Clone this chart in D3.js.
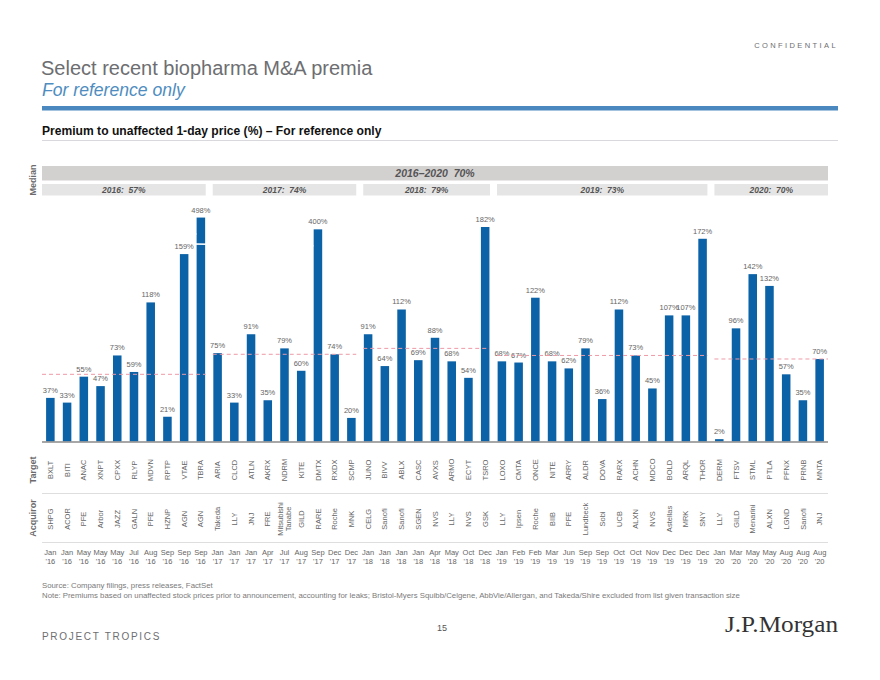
<!DOCTYPE html>
<html lang="en">
<head>
<meta charset="UTF-8">
<title>Select recent biopharma M&amp;A premia</title>
<script src="https://cdnjs.cloudflare.com/ajax/libs/d3/7.8.5/d3.min.js"></script>
<style>
  body { margin: 0; background: #fff; }
  svg { display: block; font-family: "Liberation Sans", Arial, sans-serif; }
</style>
</head>
<body>
<div id="chart"></div>
<script>
// deal data, one entry per bar
const targets = ['BXLT', 'BITI', 'ANAC', 'XNPT', 'CPXX', 'RLYP', 'MDVN', 'RPTP', 'VTAE', 'TBRA',
  'ARIA', 'CLCD', 'ATLN', 'AKRX', 'NDRM', 'KITE', 'DMTX', 'RXDX', 'SCMP',
  'JUNO', 'BIVV', 'ABLX', 'CASC', 'AVXS', 'ARMO', 'ECYT', 'TSRO',
  'LOXO', 'CMTA', 'ONCE', 'NITE', 'ARRY', 'ALDR', 'DOVA', 'RARX', 'ACHN', 'MDCO', 'BOLD', 'ARQL', 'THOR',
  'DERM', 'FTSV', 'STML', 'PTLA', 'PFNX', 'PRNB', 'MNTA']
const acquirors = ['SHPG', 'ACOR', 'PFE', 'Arbor', 'JAZZ', 'GALN', 'PFE', 'HZNP', 'AGN', 'AGN',
  'Takeda', 'LLY', 'JNJ', 'FRE', 'Mitsubishi\nTanabe', 'GILD', 'RARE', 'Roche', 'MNK',
  'CELG', 'Sanofi', 'Sanofi', 'SGEN', 'NVS', 'LLY', 'NVS', 'GSK',
  'LLY', 'Ipsen', 'Roche', 'BIIB', 'PFE', 'Lundbeck', 'Sobi', 'UCB', 'ALXN', 'NVS', 'Astellas', 'MRK', 'SNY',
  'LLY', 'GILD', 'Menarini', 'ALXN', 'LGND', 'Sanofi', 'JNJ']
const dates = ["Jan '16", "Jan '16", "May '16", "May '16", "May '16", "Jul '16", "Aug '16", "Sep '16", "Sep '16", "Sep '16",
  "Jan '17", "Jan '17", "Jan '17", "Apr '17", "Jul '17", "Aug '17", "Sep '17", "Dec '17", "Dec '17",
  "Jan '18", "Jan '18", "Jan '18", "Jan '18", "Apr '18", "May '18", "Oct '18", "Dec '18",
  "Jan '19", "Feb '19", "Feb '19", "Mar '19", "Jun '19", "Sep '19", "Sep '19", "Oct '19", "Oct '19", "Nov '19", "Dec '19", "Dec '19", "Dec '19",
  "Jan '20", "Mar '20", "May '20", "May '20", "Aug '20", "Aug '20", "Aug '20"]
const premia = [37, 33, 55, 47, 73, 59, 118, 21, 159, 498,
  75, 33, 91, 35, 79, 60, 400, 74, 20,
  91, 64, 112, 69, 88, 68, 54, 182,
  68, 67, 122, 68, 62, 79, 36, 112, 73, 45, 107, 107, 172,
  2, 96, 142, 132, 57, 35, 70]
// bars drawn with a break: height shown on the chart
const brokenAt = { TBRA: 190, DMTX: 180 }

const years = ['2016', '2017', '2018', '2019', '2020']
const yearCounts = [10, 9, 8, 13, 7]
const yearMedians = [57, 74, 79, 73, 70]
const overallMedian = 70

const width = 880, height = 680
const left = 42, right = 828, baseY = 441.5

const svg = d3.select('#chart').append('svg').attr('width', width).attr('height', height)

// header
svg.append('text').attr('x', 838).attr('y', 48).attr('text-anchor', 'end')
  .attr('fill', '#6d6e71').attr('font-size', 7.5).attr('letter-spacing', 2.4).text('CONFIDENTIAL')
svg.append('text').attr('x', 41).attr('y', 75).attr('fill', '#6d6e71').attr('font-size', 20)
  .text('Select recent biopharma M&A premia')
svg.append('text').attr('x', 42).attr('y', 96).attr('fill', '#4f8dc0').attr('font-size', 17.6)
  .attr('font-style', 'italic').text('For reference only')
svg.append('rect').attr('x', 42).attr('y', 106).attr('width', 796).attr('height', 4.5).attr('fill', '#4a88bf')
svg.append('text').attr('x', 42).attr('y', 135).attr('fill', '#111').attr('font-size', 12.1)
  .attr('font-weight', 'bold').text('Premium to unaffected 1-day price (%) \u2013 For reference only')
svg.append('line').attr('x1', 42).attr('x2', 838).attr('y1', 140.5).attr('y2', 140.5)
  .attr('stroke', '#cfcfd4').attr('stroke-width', 0.8)

// scales
const x = d3.scaleBand().domain(d3.range(targets.length)).range([left, right])
  .paddingInner(0.49).paddingOuter(0.245)
const y = d3.scaleLinear().domain([0, 200]).range([baseY, baseY - 200 * 1.1786])
const gap = (x.step() - x.bandwidth()) / 2

// year groups
let start = 0
const groups = years.map((yr, k) => {
  const g = { year: yr, first: start, last: start + yearCounts[k] - 1, median: yearMedians[k] }
  start += yearCounts[k]
  g.x0 = x(g.first) - gap + (k === 0 ? 0 : 3.5)
  g.x1 = x(g.last) + x.bandwidth() + gap - (k === years.length - 1 ? 0 : 3.5)
  return g
})

// median header
svg.append('rect').attr('x', left).attr('y', 166).attr('width', right - left).attr('height', 14.5).attr('fill', '#d3d0d0')
svg.append('text').attr('x', (left + right) / 2).attr('y', 177).attr('text-anchor', 'middle')
  .attr('fill', '#555').attr('font-size', 10.5).attr('font-weight', 'bold').attr('font-style', 'italic')
  .attr('xml:space', 'preserve').text(`2016\u20132020  ${overallMedian}%`)
svg.selectAll('.yr-box').data(groups).join('rect').attr('class', 'yr-box')
  .attr('x', d => d.x0).attr('y', 184).attr('width', d => d.x1 - d.x0).attr('height', 11.5).attr('fill', '#e6e5e5')
svg.selectAll('.yr-txt').data(groups).join('text').attr('class', 'yr-txt')
  .attr('x', d => (d.x0 + d.x1) / 2).attr('y', 193).attr('text-anchor', 'middle')
  .attr('fill', '#555').attr('font-size', 8.5).attr('font-weight', 'bold').attr('font-style', 'italic')
  .attr('xml:space', 'preserve').text(d => `${d.year}:  ${d.median}%`)

// row labels
const rowLabel = (txt, cy) => svg.append('text').attr('transform', `translate(33,${cy}) rotate(-90)`)
  .attr('text-anchor', 'middle').attr('dy', '0.35em').attr('fill', '#6b6b6b')
  .attr('font-size', 9).attr('font-weight', 'bold').text(txt)
rowLabel('Median', 180)
rowLabel('Target', 470)
rowLabel('Acquiror', 518)

// bars
const shown = i => brokenAt[targets[i]] || premia[i]
svg.selectAll('.bar').data(premia).join('rect').attr('class', 'bar')
  .attr('x', (d, i) => x(i)).attr('width', x.bandwidth())
  .attr('y', (d, i) => y(shown(i))).attr('height', (d, i) => baseY - y(shown(i)))
  .attr('fill', '#0b62a6')

// axis breaks
svg.selectAll('.brk').data(premia.map((d, i) => i).filter(i => brokenAt[targets[i]]))
  .join('path').attr('class', 'brk')
  .attr('d', i => {
    const x0 = x(i) - 1, x1 = x(i) + x.bandwidth() + 1, yb = y(shown(i)) + 14
    return `M${x0},${yb + 2.5}Q${(x0 + x1) / 2},${yb + 2}${x1},${yb - 2.5}`
  })
  .attr('fill', 'none').attr('stroke', '#fff').attr('stroke-width', 1.6)

// value labels
svg.selectAll('.val').data(premia).join('text').attr('class', 'val')
  .attr('x', (d, i) => x(i) + x.bandwidth() / 2).attr('y', (d, i) => y(shown(i)) - 5)
  .attr('text-anchor', 'middle').attr('fill', '#666').attr('font-size', 7.5).text(d => d + '%')

// median lines
svg.selectAll('.med').data(groups).join('line').attr('class', 'med')
  .attr('x1', d => d.x0).attr('x2', d => d.x1).attr('y1', d => y(d.median)).attr('y2', d => y(d.median))
  .attr('stroke', '#ee9aa6').attr('stroke-width', 1).attr('stroke-dasharray', '4,3')

// baseline
svg.append('line').attr('x1', left).attr('x2', right).attr('y1', baseY + 0.5).attr('y2', baseY + 0.5)
  .attr('stroke', '#8a8a8a').attr('stroke-width', 1.5)

// category rows drawn with axes
function row(fmt, ty) {
  const g = svg.append('g').attr('transform', `translate(0,${ty})`)
    .call(d3.axisBottom(x).tickSize(0).tickFormat(() => ''))
  g.select('.domain').remove()
  g.attr('font-family', null).attr('font-size', 7.5)
  g.selectAll('text').attr('fill', '#666').attr('y', 0).attr('dy', null)
  g.selectAll('.tick text').each(fmt)
  return g
}

// targets, rotated
row(function (i) {
  d3.select(this).attr('transform', 'rotate(-90)').attr('text-anchor', 'middle').attr('dy', '0.35em').text(targets[i])
}, 470)

// acquirors, rotated, may wrap
row(function (i) {
  const lines = acquirors[i].split('\n')
  const t = d3.select(this).attr('transform', 'rotate(-90)').attr('text-anchor', 'middle')
  lines.forEach((ln, k) => {
    t.append('tspan').attr('x', 0)
      .attr('dy', k === 0 ? (0.35 - (lines.length - 1) * 0.55) + 'em' : '1.1em').text(ln)
  })
}, 519)

// dates, two lines
row(function (i) {
  const [m, yr] = dates[i].split(' ')
  const t = d3.select(this).attr('text-anchor', 'middle')
  t.append('tspan').attr('x', 0).attr('y', 0).text(m)
  t.append('tspan').attr('x', 0).attr('y', 9).text(yr)
}, 555)

// row separators
;[493.5, 542.5].forEach(ly => svg.append('line').attr('x1', left).attr('x2', right)
  .attr('y1', ly).attr('y2', ly).attr('stroke', '#d6d6d6').attr('stroke-width', 0.8))

// footer
svg.append('text').attr('x', 42).attr('y', 588).attr('fill', '#7a7a7a').attr('font-size', 7.8)
  .text('Source: Company filings, press releases, FactSet')
svg.append('text').attr('x', 42).attr('y', 598).attr('fill', '#7a7a7a').attr('font-size', 7.8)
  .text('Note: Premiums based on unaffected stock prices prior to announcement, accounting for leaks; Bristol-Myers Squibb/Celgene, AbbVie/Allergan, and Takeda/Shire excluded from list given transaction size')
svg.append('text').attr('x', 442).attr('y', 631).attr('text-anchor', 'middle').attr('fill', '#555')
  .attr('font-size', 9).text('15')
svg.append('text').attr('x', 42).attr('y', 640).attr('fill', '#6d6e71').attr('font-size', 10)
  .attr('letter-spacing', 1.7).text('PROJECT TROPICS')
svg.append('text').attr('x', 725).attr('y', 632).attr('fill', '#333')
  .attr('font-family', '"Liberation Serif", "DejaVu Serif", serif').attr('font-size', 24)
  .attr('textLength', 113).attr('lengthAdjust', 'spacingAndGlyphs').text('J.P.Morgan')
</script>
</body>
</html>
